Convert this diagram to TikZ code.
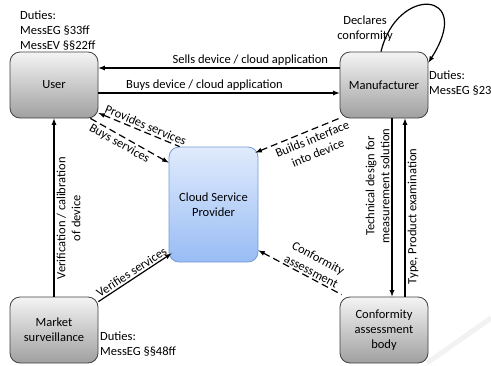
\documentclass[tikz,border=0pt]{standalone}
\usepackage{fontspec}
\setmainfont{Carlito}
\usepackage{tikz}
\usetikzlibrary{arrows,shapes,positioning}
\definecolor{boxtop}{RGB}{244,244,244}
\definecolor{boxbot}{RGB}{160,160,160}
\definecolor{cloudtop}{RGB}{224,235,252}
\definecolor{cloudbot}{RGB}{152,188,245}
\definecolor{cloudline}{RGB}{120,155,210}

\begin{document}
\begin{tikzpicture}[x=1pt,y=-1pt,>=latex,font=\fontsize{12.5}{15}\selectfont]
%styles des acteurs et des fleches
\tikzset{acteur/.style={draw=black!75,line width=0.8pt,rounded corners=10pt,top color=boxtop,bottom color=boxbot,minimum width=88pt,minimum height=66pt,align=center,inner sep=2pt}}
\tikzset{fleche/.style={->,line width=1.2pt}}
\tikzset{tiret/.style={->,line width=1.2pt,dash pattern=on 7pt off 4pt}}
\tikzset{devoirs/.style={align=left,anchor=north west,inner sep=0pt}}
\useasboundingbox (0,0) rectangle (491,365);
\draw[gray!10,line width=5pt] (427,363) -- (491,318);
%acteurs
\node[acteur] (user) at (54,85) {User};
\node[acteur] (manu) at (384,85) {Manufacturer};
\node[acteur,draw=cloudline,top color=cloudtop,bottom color=cloudbot,minimum width=89pt,minimum height=115pt] (csp) at (213.5,204.5) {Cloud Service\\Provider};
\node[acteur] (market) at (54,330) {Market\\surveillance};
\node[acteur] (cab) at (384,330) {Conformity\\assessment\\body};
%devoirs
\node[devoirs] (duser) at (20,11) {Duties:\\MessEG §33ff\\MessEV §§22ff};
\node[devoirs] (dmanu) at (429,71) {Duties:\\MessEG §23};
\node[devoirs] (dmarket) at (100,332) {Duties:\\MessEG §§48ff};
%fleches pleines
\draw[fleche] ([yshift=17pt]manu.west) -- node[pos=0.37,above,inner sep=1.5pt] {Sells device / cloud application} ([yshift=17pt]user.east);
\draw[fleche] ([yshift=-8pt]user.east) -- node[pos=0.44,above,inner sep=1.5pt] {Buys device / cloud application} ([yshift=-8pt]manu.west);
\draw[fleche] (market.north) -- node[pos=0.44,below,sloped,align=center,inner sep=2pt] {Verification / calibration\\of device} (user.south);
\draw[fleche,<-] ([xshift=8pt]cab.north) -- node[pos=0.62,above,sloped,align=center,inner sep=2pt] {Technical design for\\measurement solution} ([xshift=8pt]manu.south);
\draw[fleche] ([xshift=21pt]cab.north) -- node[pos=0.45,below,sloped,inner sep=2pt] {Type, Product examination} ([xshift=21pt]manu.south);
\draw[fleche] ([yshift=-5pt]market.north east) -- node[midway,above,sloped,inner sep=1.5pt] {Verifies services} ([xshift=3pt,yshift=9pt]csp.south west);
%fleches en tirets
\draw[tiret,<-] ([yshift=-28pt]user.east) -- node[pos=0.55,above,sloped,inner sep=2pt] {Provides services} ([xshift=11pt]csp.north west);
\draw[tiret] ([xshift=-8pt]user.south east) -- node[pos=0.42,below,sloped,inner sep=2pt] {Buys services} ([yshift=-16pt]csp.north west);
\draw[tiret,<-] ([xshift=-3pt,yshift=-6pt]csp.north east) -- node[pos=0.62,below,sloped,align=center,inner sep=4pt] {Builds interface\\into device} ([xshift=2pt,yshift=1pt]manu.south west);
\draw[tiret,<-] ([yshift=12pt]csp.south east) -- node[pos=0.6,above,sloped,align=center,inner sep=1.5pt] {Conformity\\assessment} ([xshift=2pt,yshift=2pt]cab.north west);
%boucle du fabricant
\node[align=center] (declares) at (365,29) {Declares\\conformity};
\draw[fleche] ([xshift=-3pt]manu.north) .. controls (397,-15) and (475,-10) .. ([yshift=-11pt]manu.north east);
\end{tikzpicture}
\end{document}
